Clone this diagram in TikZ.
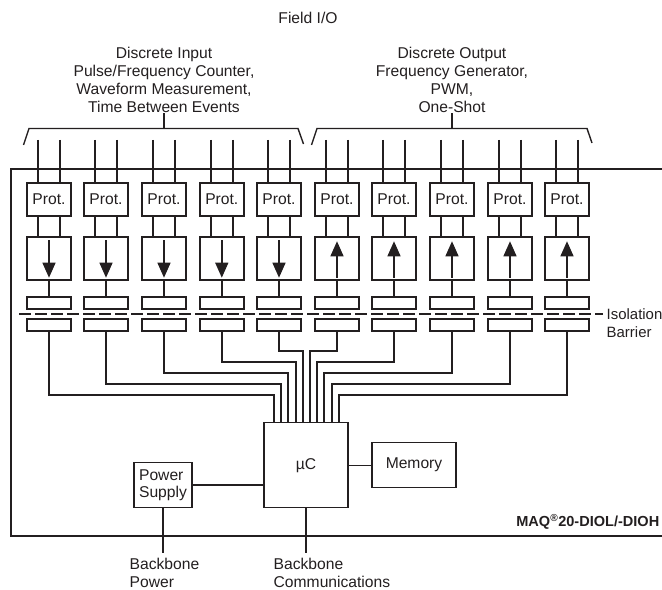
\documentclass[tikz,border=0pt]{standalone}
\usepackage{fontspec}
\setmainfont{Liberation Sans}
\usetikzlibrary{arrows.meta}
\definecolor{ink}{HTML}{231F20}
\begin{document}
\begin{tikzpicture}[x=1bp, y=-1bp, line width=1.4bp, draw=ink, text=ink,
        label/.style={inner sep=0pt, font=\fontsize{15.7}{18}\selectfont, align=center},
        leftlabel/.style={label, align=left, anchor=west},
        protbox/.style={draw, minimum width=44bp, minimum height=33bp, inner sep=0pt,
                        font=\fontsize{15.7}{17}\selectfont},
        dirbox/.style={draw, minimum width=44bp, minimum height=43bp, inner sep=0pt},
        isobox/.style={draw, minimum width=44bp, minimum height=12bp, inner sep=0pt},
        chipbox/.style={draw, inner sep=0pt, font=\fontsize{15.7}{17}\selectfont, align=left},
        bigarrow/.style={-{Triangle[length=15bp, width=13bp]}}]
        \useasboundingbox (0,0) rectangle (662,590);
        % module outline, open on the right
        \coordinate (frameTR) at (662,169);
        \coordinate (frameBR) at (662,536);
        \coordinate (frameBL) at (11,536);
        \draw (frameTR) -| (frameBL) -- (frameBR);
        % controller and friends
        \node[chipbox, minimum width=84bp, minimum height=85bp] (uc) at (306,465.2) {µC};
        \node[chipbox, minimum width=84bp, minimum height=45bp] (memory) at (414,465.2) {Memory};
        \node[chipbox, minimum width=58bp, minimum height=45bp] (power) at (163,484.8) {Power\\Supply};
        \draw (uc.east) -- (memory.west);
        \draw (power.east) -- (power.east -| uc.west);
        % channels: number/centre/bus x/bus y
        \foreach \i/\cx/\bx/\by in {1/49/274/395, 2/106/281/384, 3/164/288/373, 4/221.8/296/362,
                5/279/303/351, 6/337/310/351, 7/394/317/362, 8/452/324/373, 9/510/332/384, 10/567/339/395} {
            \node[protbox] (prot\i) at (\cx,199.5) {Prot.};
            \node[dirbox] (dir\i) at (\cx,258.5) {};
            \node[isobox] (hi\i) at (\cx,303) {};
            \node[isobox] (lo\i) at (\cx,325) {};
            \coordinate (fa\i) at (\cx-11,140);
            \coordinate (fb\i) at (\cx+11,140);
            \coordinate (bus\i) at (\bx,\by);
            \draw (fa\i) -- (fa\i |- prot\i.north);
            \draw (fb\i) -- (fb\i |- prot\i.north);
            \draw (fa\i |- prot\i.south) -- (fa\i |- dir\i.north);
            \draw (fb\i |- prot\i.south) -- (fb\i |- dir\i.north);
            \draw (dir\i.south) -- (hi\i.north);
            \draw (lo\i.south) |- (bus\i) -- (bus\i |- uc.north);
        }
        % direction arrows
        \foreach \i in {1,...,5}
            \draw[bigarrow] ([yshift=-4bp]dir\i.north) -- ([yshift=3bp]dir\i.south);
        \foreach \i in {6,...,10}
            \draw[bigarrow] ([yshift=3bp]dir\i.south) -- ([yshift=-5bp]dir\i.north);
        % isolation barrier
        \coordinate (isoL) at (19,314);
        \node[leftlabel, font=\fontsize{15}{18}\selectfont] (isolation) at (606,323) {Isolation\\Barrier};
        \draw[dash pattern=on 11.5bp off 4.5bp] (isoL) -- ([xshift=-3bp]isoL -| isolation.west);
        % field side
        \node[label] (field) at (308,18) {Field I/O};
        \node[label] (inputs) at (164,80) {Discrete Input\\Pulse/Frequency Counter,\\Waveform Measurement,\\Time Between Events};
        \node[label] (outputs) at (452,80) {Discrete Output\\Frequency Generator,\\PWM,\\One-Shot};
        \coordinate (braceA) at (164,128.5);
        \coordinate (braceB) at (452,128.5);
        \draw (23.5,145) -- (29,128.5) -- (298,128.5) -- (303.5,144);
        \draw (311.5,145) -- (317,128.5) -- (587,128.5) -- (592,143);
        \draw (braceA) -- (braceA |- inputs.south);
        \draw (braceB) -- (braceB |- outputs.south);
        % backbone
        \node[leftlabel] (bbpower) at (129,573.3) {Backbone\\Power};
        \node[leftlabel] (bbcomms) at (273,573.3) {Backbone\\Communications};
        \coordinate (bbpowerEnd) at (163,553);
        \coordinate (bbcommsEnd) at (306,553);
        \draw (power.south) -- (bbpowerEnd);
        \draw (uc.south) -- (bbcommsEnd);
        \node[inner sep=0pt, anchor=east, font=\fontsize{14.6}{15}\selectfont\bfseries] (model) at (660,522) {MAQ\textsuperscript{®}20-DIOL/-DIOH};
    \end{tikzpicture}
\end{document}
